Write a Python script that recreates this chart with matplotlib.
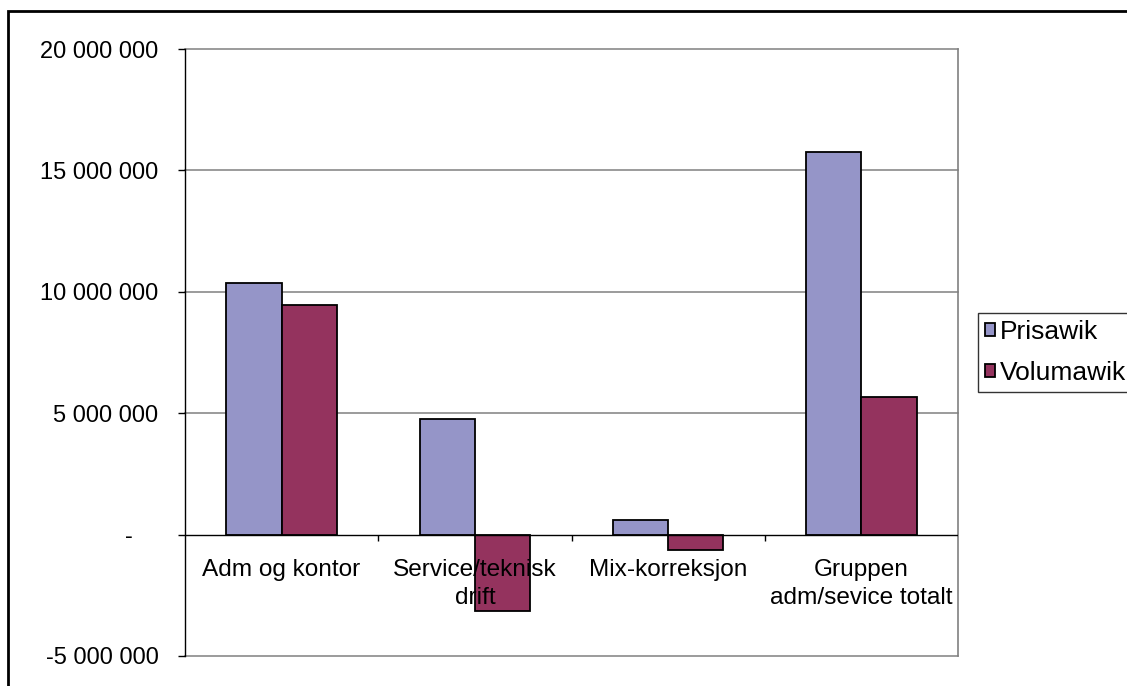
import matplotlib
matplotlib.use("Agg")
import matplotlib.pyplot as plt
from matplotlib.patches import Rectangle
from matplotlib.markers import TICKDOWN
from matplotlib.transforms import ScaledTranslation
import numpy as np

categories = ["Adm og kontor", "Service/teknisk\ndrift", "Mix-korreksjon", "Gruppen\nadm/sevice totalt"]
prisawik = [10_360_000, 4_760_000, 620_000, 15_740_000]
volumawik = [9_440_000, -3_160_000, -620_000, 5_660_000]
series_names = ["Prisawik", "Volumawik"]
yticks = [-5_000_000, 0, 5_000_000, 10_000_000, 15_000_000, 20_000_000]

plt.rcParams['font.family'] = ['Liberation Sans', 'DejaVu Sans']
FS = 17
FS_X = 17.6
FS_LEG = 19

W, H = 1127, 686
fig = plt.figure(figsize=(W / 100, H / 100), dpi=100)
ax = fig.add_axes([185 / W, 1 - 656 / H, (958 - 185) / W, (656 - 49) / H])

# outer chart border
fig.patches.append(Rectangle((8 / W, -0.1), 1.2, 1 - 11 / H + 0.1, transform=fig.transFigure,
                             fill=False, edgecolor='black', linewidth=2, zorder=0))

x = np.arange(len(categories))
bw = 1 / 3.5
ax.bar(x - bw / 2, prisawik, bw, color='#9595C8', edgecolor='black', linewidth=1.3,
       label=series_names[0], zorder=3)
ax.bar(x + bw / 2, volumawik, bw, color='#94335E', edgecolor='black', linewidth=1.3,
       label=series_names[1], zorder=3)

ax.set_xlim(-0.5, len(categories) - 0.5)
ax.set_ylim(-5_000_000, 20_000_000)

# gridlines
for v in yticks:
    if v != 0:
        ax.axhline(v, color='#808080', linewidth=1.1, zorder=1, clip_on=False)
ax.axhline(0, color='black', linewidth=1, zorder=4)

for s in ['top', 'bottom']:
    ax.spines[s].set_visible(False)
ax.spines['right'].set_color('#808080')
ax.spines['right'].set_linewidth(1.2)
ax.spines['left'].set_color('black')
ax.spines['left'].set_linewidth(1)
ax.spines['left'].set_zorder(5)

def fmt(v):
    if v == 0:
        return "-"
    s = f"{abs(v):,}".replace(",", " ")
    return ("-" if v < 0 else "") + s

ax.set_yticks(yticks)
ax.set_yticklabels([fmt(v) for v in yticks], fontsize=FS)
ax.tick_params(axis='y', length=5, width=1, direction='out', pad=14, colors='black')
for lab, v in zip(ax.get_yticklabels(), yticks):
    if v == 0:
        lab.set_transform(lab.get_transform() + ScaledTranslation(-0.26, 0, fig.dpi_scale_trans))

ax.set_xticks([])
# category boundary ticks below the zero line
bounds = np.arange(0.5, len(categories) - 0.5, 1.0)
ax.plot(bounds, np.zeros_like(bounds), linestyle='none', marker=TICKDOWN, markersize=4,
        color='black', markeredgewidth=1, zorder=4, clip_on=False)

for i, c in enumerate(categories):
    ax.text(i, 0, c, ha='center', va='top', fontsize=FS_X, linespacing=1.38, zorder=6,
            transform=ax.transData + ScaledTranslation(0, -0.24, fig.dpi_scale_trans))

leg = ax.legend(loc='upper left', bbox_to_anchor=(978 / W, 1 - 313 / H),
                bbox_transform=fig.transFigure, fontsize=FS_LEG, frameon=True, fancybox=False,
                edgecolor='black', handlelength=0.38, handleheight=0.38, handletextpad=0.18,
                borderpad=0.26, labelspacing=0.66, borderaxespad=0)
leg.get_frame().set_linewidth(1)

fig.savefig("out.png", dpi=100)
